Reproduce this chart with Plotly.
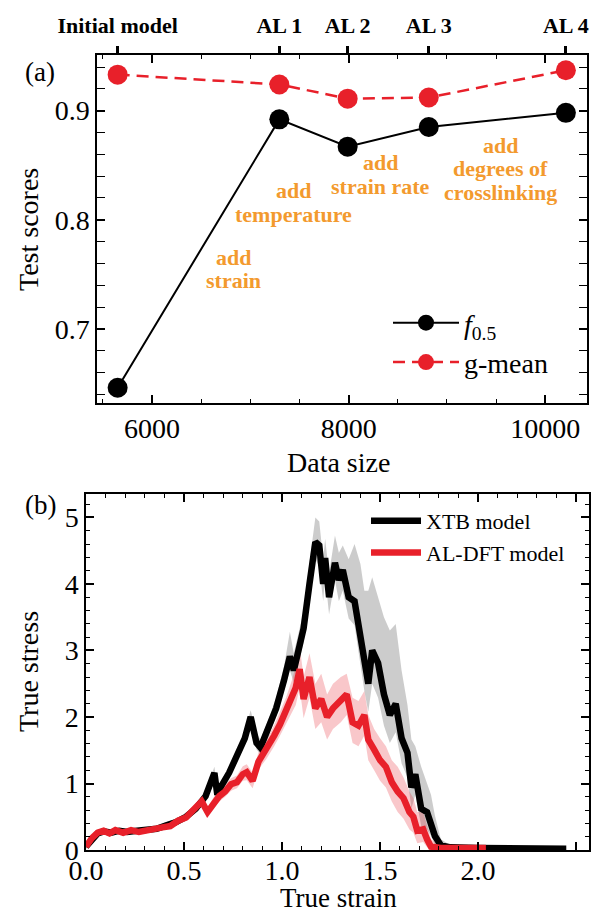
import plotly.graph_objects as go

W, H = 592, 915
SERIF = "Liberation Serif"

# ---------------- panel (a) data ----------------
data_size = [5650, 7295, 7990, 8815, 10210]
f05_score = [0.646, 0.892, 0.867, 0.885, 0.898]
gmean_score = [0.933, 0.924, 0.911, 0.912, 0.937]
stage_labels = ["Initial model", "AL 1", "AL 2", "AL 3", "AL 4"]
feature_notes = [["add", "strain"], ["add", "temperature"],
                 ["add", "strain rate"], ["add", "degrees of", "crosslinking"]]

# ---------------- panel (b) data ----------------
xtb_strain = [0.00, 0.03, 0.06, 0.09, 0.13, 0.17, 0.21, 0.26, 0.31, 0.36, 0.41, 0.46, 0.51, 0.56,
              0.61, 0.64, 0.655, 0.67, 0.69, 0.73, 0.77, 0.81, 0.84, 0.87, 0.89, 0.93, 0.97, 1.01,
              1.04, 1.06, 1.08, 1.11, 1.14, 1.17, 1.19, 1.21, 1.22, 1.24, 1.27, 1.29, 1.31, 1.34,
              1.37, 1.40, 1.42, 1.44, 1.46, 1.49, 1.52, 1.55, 1.58, 1.61, 1.64, 1.66, 1.68, 1.71,
              1.74, 1.76, 1.78, 1.81, 1.86, 2.00, 2.20, 2.45]
xtb_stress = [0.05, 0.15, 0.25, 0.28, 0.26, 0.29, 0.27, 0.29, 0.31, 0.32, 0.37, 0.42, 0.50, 0.62,
              0.81, 1.06, 1.16, 0.83, 0.96, 1.16, 1.40, 1.68, 2.00, 1.61, 1.54, 1.82, 2.13, 2.55,
              2.91, 2.70, 2.96, 3.33, 4.00, 4.63, 4.58, 4.00, 4.39, 3.80, 4.32, 4.06, 4.21, 3.80,
              3.74, 3.22, 2.81, 2.50, 3.00, 2.81, 2.34, 2.03, 2.20, 1.68, 1.46, 0.94, 1.14, 0.62,
              0.57, 0.42, 0.21, 0.07, 0.04, 0.03, 0.03, 0.02]
xtb_low = [0.02, 0.11, 0.21, 0.24, 0.22, 0.25, 0.23, 0.25, 0.27, 0.28, 0.33, 0.37, 0.45, 0.57,
           0.75, 0.99, 1.08, 0.77, 0.88, 1.09, 1.32, 1.59, 1.89, 1.51, 1.44, 1.71, 2.00, 2.39,
           2.70, 2.52, 2.76, 3.12, 3.77, 4.37, 4.26, 3.74, 4.11, 3.54, 4.06, 3.74, 3.90, 3.48,
           3.38, 2.81, 2.39, 2.08, 2.50, 2.29, 1.87, 1.61, 1.77, 1.30, 1.09, 0.62, 0.83, 0.36,
           0.31, 0.21, 0.08, 0.02, 0.01, 0.01, 0.01, 0.00]
xtb_high = [0.08, 0.19, 0.29, 0.32, 0.30, 0.33, 0.31, 0.33, 0.35, 0.36, 0.42, 0.47, 0.55, 0.69,
            0.88, 1.14, 1.25, 0.92, 1.04, 1.25, 1.50, 1.79, 2.10, 1.75, 1.66, 1.96, 2.29, 2.76,
            3.28, 2.96, 3.22, 3.59, 4.32, 5.00, 4.94, 4.37, 4.68, 4.16, 4.73, 4.47, 4.58, 4.37,
            4.60, 4.30, 3.90, 3.90, 4.10, 3.80, 3.50, 3.30, 3.40, 2.70, 2.18, 1.66, 1.56, 1.25,
            0.99, 0.83, 0.52, 0.16, 0.07, 0.05, 0.05, 0.04]

dft_strain = [0.00, 0.03, 0.06, 0.09, 0.12, 0.15, 0.19, 0.23, 0.27, 0.31, 0.35, 0.39, 0.43, 0.47,
              0.51, 0.55, 0.59, 0.62, 0.65, 0.68, 0.71, 0.74, 0.77, 0.80, 0.82, 0.85, 0.88, 0.92,
              0.96, 0.99, 1.02, 1.05, 1.07, 1.09, 1.11, 1.14, 1.17, 1.20, 1.23, 1.26, 1.30, 1.33,
              1.36, 1.39, 1.42, 1.44, 1.47, 1.50, 1.53, 1.56, 1.59, 1.62, 1.65, 1.67, 1.69, 1.72,
              1.74, 1.76, 1.81, 2.04]
dft_stress = [0.05, 0.18, 0.26, 0.29, 0.25, 0.30, 0.26, 0.30, 0.27, 0.30, 0.31, 0.34, 0.36, 0.44,
              0.49, 0.60, 0.73, 0.57, 0.71, 0.81, 0.88, 0.99, 1.02, 1.14, 1.17, 1.04, 1.33, 1.51,
              1.72, 1.89, 2.08, 2.29, 2.44, 2.72, 2.27, 2.60, 2.13, 2.27, 2.00, 2.13, 2.24, 2.34,
              1.92, 1.87, 2.03, 1.66, 1.51, 1.35, 1.25, 1.02, 0.88, 0.78, 0.57, 0.50, 0.29, 0.31,
              0.16, 0.05, 0.03, 0.03]
dft_low = [0.02, 0.14, 0.22, 0.25, 0.21, 0.26, 0.22, 0.26, 0.23, 0.26, 0.27, 0.30, 0.32, 0.38,
           0.44, 0.54, 0.66, 0.50, 0.63, 0.73, 0.80, 0.89, 0.93, 1.04, 1.05, 0.93, 1.21, 1.37,
           1.56, 1.72, 1.89, 2.06, 2.18, 2.44, 1.98, 2.29, 1.82, 1.92, 1.66, 1.82, 1.92, 2.03,
           1.61, 1.56, 1.72, 1.35, 1.20, 1.04, 0.94, 0.73, 0.57, 0.47, 0.31, 0.26, 0.10, 0.12,
           0.04, 0.01, 0.01, 0.01]
dft_high = [0.08, 0.22, 0.30, 0.33, 0.29, 0.34, 0.30, 0.34, 0.31, 0.34, 0.35, 0.38, 0.41, 0.49,
            0.54, 0.67, 0.80, 0.64, 0.79, 0.89, 0.98, 1.08, 1.12, 1.26, 1.29, 1.16, 1.47, 1.65,
            1.88, 2.08, 2.29, 2.55, 2.76, 3.07, 2.60, 2.96, 2.50, 2.65, 2.34, 2.50, 2.60, 2.65,
            2.29, 2.24, 2.39, 2.03, 1.82, 1.68, 1.56, 1.35, 1.25, 1.09, 0.88, 0.78, 0.57, 0.57,
            0.36, 0.16, 0.05, 0.05]

BLACK = "#000000"
RED = "#E8202A"
ORANGE = "#F39A2E"


def px(x):
    return x / W


def py(y):
    return 1 - y / H


fig = go.Figure()

# panel (a)
fig.add_trace(go.Scatter(x=data_size, y=f05_score, mode="lines+markers", name="<i>f</i><sub>0.5</sub>",
                         line=dict(color=BLACK, width=2), marker=dict(color=BLACK, size=20),
                         xaxis="x", yaxis="y", legend="legend"))
fig.add_trace(go.Scatter(x=data_size, y=gmean_score, mode="lines+markers", name="g-mean",
                         line=dict(color=RED, width=2.5, dash="12px,7px"), marker=dict(color=RED, size=20),
                         xaxis="x", yaxis="y", legend="legend"))
# invisible trace that carries the top (AL stage) axis
fig.add_trace(go.Scatter(x=data_size, y=gmean_score, mode="markers", marker=dict(opacity=0),
                         showlegend=False, hoverinfo="skip", xaxis="x3", yaxis="y"))

# panel (b) bands
fig.add_trace(go.Scatter(x=xtb_strain + xtb_strain[::-1], y=xtb_high + xtb_low[::-1],
                         fill="toself", fillcolor="rgba(0,0,0,0.2)", line=dict(width=0),
                         mode="lines", showlegend=False, hoverinfo="skip", xaxis="x2", yaxis="y2"))
fig.add_trace(go.Scatter(x=dft_strain + dft_strain[::-1], y=dft_high + dft_low[::-1],
                         fill="toself", fillcolor="rgba(232,32,42,0.25)", line=dict(width=0),
                         mode="lines", showlegend=False, hoverinfo="skip", xaxis="x2", yaxis="y2"))
fig.add_trace(go.Scatter(x=xtb_strain, y=xtb_stress, mode="lines", name="XTB model",
                         line=dict(color=BLACK, width=6.5), xaxis="x2", yaxis="y2", legend="legend2"))
fig.add_trace(go.Scatter(x=dft_strain, y=dft_stress, mode="lines", name="AL-DFT model",
                         line=dict(color=RED, width=6.5), xaxis="x2", yaxis="y2", legend="legend2"))

tickfont = dict(family=SERIF, size=28, color="black")
common = dict(showgrid=False, zeroline=False, showline=True, linecolor="black", linewidth=1.5,
              mirror="allticks", ticks="inside", tickcolor="black", tickwidth=1.5, ticklen=8,
              tickfont=tickfont, automargin=False)

fig.update_layout(
    width=W, height=H, margin=dict(l=0, r=0, t=0, b=0),
    paper_bgcolor="white", plot_bgcolor="white",
    font=dict(family=SERIF, color="black"),
    xaxis=dict(domain=[px(97), px(587)], range=[5440, 10425], anchor="y", dtick=2000, tick0=0,
               tickformat="d",
               minor=dict(dtick=500, ticks="inside", ticklen=4, tickcolor="black", tickwidth=1.2),
               **common),
    yaxis=dict(domain=[py(403), py(55)], range=[0.632, 0.951], anchor="x", dtick=0.1, tick0=0,
               tickformat=".1f",
               minor=dict(dtick=0.02, ticks="inside", ticklen=4, tickcolor="black", tickwidth=1.2),
               **common),
    xaxis3=dict(overlaying="x", anchor="y", side="top", range=[5440, 10425],
                tickmode="array", tickvals=data_size,
                ticktext=["<b>%s</b>" % s for s in stage_labels],
                ticks="outside", ticklen=8, tickwidth=2.5, tickcolor="black",
                showline=False, showgrid=False, zeroline=False,
                tickfont=dict(family=SERIF, size=22, color="black"),
                ticklabelstandoff=4, automargin=False),
    xaxis2=dict(domain=[px(86), px(589)], range=[0, 2.566], anchor="y2", dtick=0.5, tick0=0,
                tickformat=".1f", ticklabelstandoff=-5,
                minor=dict(dtick=0.1, ticks="inside", ticklen=4, tickcolor="black", tickwidth=1.2),
                **common),
    yaxis2=dict(domain=[py(850), py(494)], range=[0, 5.353], anchor="x2", dtick=1, tick0=0,
                minor=dict(dtick=0.2, ticks="inside", ticklen=4, tickcolor="black", tickwidth=1.2),
                **common),
    legend=dict(x=px(388), y=py(298), xanchor="left", yanchor="top",
                font=dict(family=SERIF, size=28, color="black"), bgcolor="rgba(0,0,0,0)",
                itemwidth=66, tracegroupgap=0),
    legend2=dict(x=px(366), y=py(500), xanchor="left", yanchor="top",
                 font=dict(family=SERIF, size=22, color="black"), bgcolor="rgba(0,0,0,0)",
                 itemwidth=50),
)

ann = []
# axis titles
ann.append(dict(text="Test scores", x=px(28), y=py(230), textangle=-90, font=dict(size=28)))
ann.append(dict(text="Data size", x=px(338), y=py(463), font=dict(size=28)))
ann.append(dict(text="True stress", x=px(28), y=py(672), textangle=-90, font=dict(size=28)))
ann.append(dict(text="True strain", x=px(338), y=py(898), font=dict(size=27)))
ann.append(dict(text="(a)", x=px(40), y=py(72), font=dict(size=27)))
ann.append(dict(text="(b)", x=px(40), y=py(505), font=dict(size=27)))

# orange feature notes (one annotation per line)
note_pos = [(233, [257, 280]), (293, [190, 214]), (381, [162, 186]), (500, [146, 169, 192])]
for lines, (cx, ys) in zip(feature_notes, note_pos):
    for t, yy in zip(lines, ys):
        ann.append(dict(text="<b>%s</b>" % t, x=px(cx), y=py(yy),
                        font=dict(size=22, color=ORANGE)))

for a in ann:
    a.setdefault("xref", "paper")
    a.setdefault("yref", "paper")
    a.setdefault("showarrow", False)
    a.setdefault("xanchor", "center")
    a.setdefault("yanchor", "middle")
    f = a.get("font", {})
    f.setdefault("family", SERIF)
    f.setdefault("color", "black")
    a["font"] = f

fig.update_layout(annotations=ann)

fig.write_html("out.html", config={"displayModeBar": False},
               post_script="document.body.style.margin='0px';document.body.style.padding='0px';")
